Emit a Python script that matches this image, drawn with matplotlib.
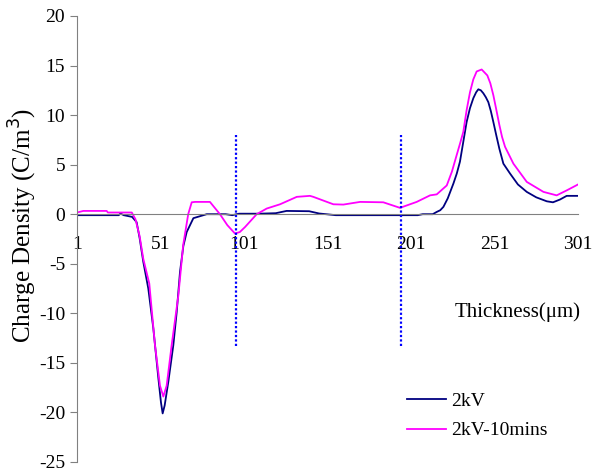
import numpy as np
import matplotlib
matplotlib.use('Agg')
import matplotlib.pyplot as plt

plt.rcParams['font.family'] = ['Liberation Serif', 'DejaVu Serif']
plt.rcParams['axes.unicode_minus'] = False

# 2kV (navy)
x_2kv = [1, 26, 27, 29, 34, 36.7, 38.5, 40.7, 43.7, 46.7, 49.7, 51.3, 52.3, 53.5,
         55.7, 58.7, 60.7, 62.7, 64.7, 66.7, 70.7, 74.7, 78.7, 90, 94, 98, 110,
         120, 126.5, 140, 146, 156, 205, 208, 214, 216.4, 218.5, 220.4, 223,
         226.4, 228.4, 230.3, 232.3, 234.3, 236.3, 238.3, 240, 241.3, 242.8,
         244.3, 245.8, 247.3, 248.8, 250.3, 252, 253.9, 256.3, 258.3, 260.3,
         265, 270.3, 276, 282.3, 286, 290.2, 294.2, 301]
y_2kv = [-0.1, -0.1, 0.07, -0.1, -0.27, -0.8, -2.4, -4.8, -7.5, -11.5, -16.5,
         -19.0, -20.1, -19.3, -16.9, -13.2, -9.9, -5.8, -3.2, -1.8, -0.4, -0.2,
         0.0, 0.0, -0.1, 0.05, 0.05, 0.1, 0.33, 0.3, 0.07, -0.1, -0.1, 0.0, 0.0,
         0.23, 0.4, 0.74, 1.6, 3.1, 4.1, 5.3, 7.3, 9.3, 10.7, 11.7, 12.3, 12.6,
         12.5, 12.2, 11.8, 11.3, 10.4, 9.3, 8.0, 6.6, 5.1, 4.6, 4.1, 3.0, 2.25,
         1.7, 1.3, 1.2, 1.48, 1.85, 1.85]

# 2kV-10mins (magenta)
x_10m = [1, 4.8, 18.8, 19.5, 33.8, 36, 38.5, 40.7, 44.3, 47.7, 50.7, 52.7, 54.7,
         57.7, 61.7, 64.6, 67.6, 69.7, 71.7, 80.6, 86.6, 91, 95.6, 98.5, 101.6,
         108.6, 114.6, 122.6, 132.6, 140.5, 142.5, 154.5, 160.5, 170.5, 184.4,
         194.4, 204.4, 212.4, 216.4, 222.4, 225.5, 228.4, 230.3, 232.3, 234.3,
         236.3, 238.3, 240.3, 243.3, 246.7, 248.5, 250.3, 252, 253.9, 255.5,
         257.3, 262.3, 270.3, 280.3, 288.2, 294.2, 301]
y_10m = [0.17, 0.33, 0.33, 0.17, 0.17, -0.5, -2.2, -4.5, -7.0, -13.2, -17.3,
         -18.4, -17.3, -13.2, -8.2, -3.1, 0.0, 1.2, 1.24, 1.24, 0.0, -1.1, -1.95,
         -1.8, -1.3, 0.0, 0.57, 1.0, 1.75, 1.85, 1.75, 1.0, 0.97, 1.24, 1.2, 0.64,
         1.24, 1.9, 2.0, 2.9, 4.3, 6.0, 7.1, 8.3, 10.5, 12.3, 13.6, 14.4, 14.6,
         14.0, 13.2, 12.0, 10.6, 9.0, 7.8, 6.8, 5.1, 3.26, 2.25, 1.9, 2.4, 3.0]

marker_x = [96, 195]
marker_top, marker_bottom = 8.0, -13.3
x_ticks = [1, 51, 101, 151, 201, 251, 301]
y_ticks = [-25, -20, -15, -10, -5, 0, 5, 10, 15, 20]

fig = plt.figure(figsize=(5.99, 4.75), dpi=100)
ax = fig.add_axes([0.1285, 0.0274, 0.8365, 0.939])

ax.plot(x_2kv, y_2kv, color='#000080', lw=1.3, label='2kV')
ax.plot(x_10m, y_10m, color='#FF00FF', lw=1.3, label='2kV-10mins')
ax.vlines(marker_x, marker_bottom, marker_top, colors='#0000FF', lw=1.6,
          linestyles=(0, (1, 1)))

ax.set_xlim(1, 301)
ax.set_ylim(-25, 20)
ax.set_xticks(x_ticks)
ax.set_yticks(y_ticks)

for s in ['top', 'right']:
    ax.spines[s].set_visible(False)
ax.spines['left'].set_color('#808080')
ax.spines['bottom'].set_position(('data', 0))
ax.spines['bottom'].set_color('#808080')
ax.tick_params(axis='x', length=0, pad=16, labelsize=14)
ax.tick_params(axis='y', length=5, color='#808080', direction='out', labelsize=14)

ax.set_ylabel('Charge Density (C/m$^3$)', fontsize=18)
ax.yaxis.set_label_coords(-0.075, 0.531)
ax.text(227, -9.9, 'Thickness(\u03bcm)', fontsize=15, ha='left', va='center')

ax.legend(loc='center left', bbox_to_anchor=(0.659, 0.103), frameon=False,
          fontsize=14, handlelength=2.0, handletextpad=0.25, labelspacing=0.6,
          borderpad=0, borderaxespad=0)

fig.savefig('out.png', dpi=100)
